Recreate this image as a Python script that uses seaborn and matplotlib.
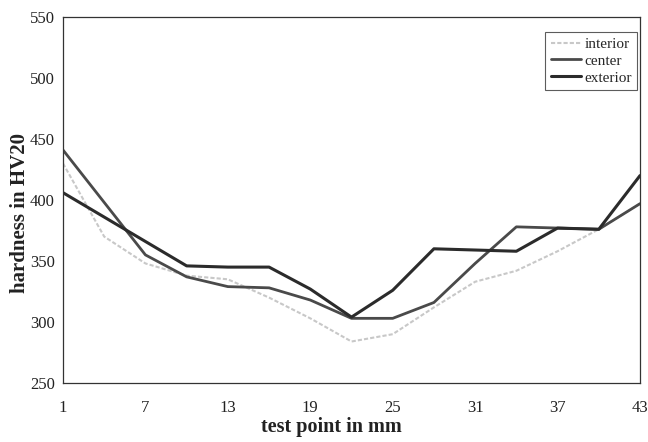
import matplotlib
matplotlib.use("Agg")
import matplotlib.pyplot as plt
import seaborn as sns
import pandas as pd

test_point = [1, 4, 7, 10, 13, 16, 19, 22, 25, 28, 31, 34, 37, 40, 43]
interior = [430, 370, 348, 338, 335, 320, 303, 284, 290, 312, 333, 342, 358, 376, 397]
center = [441, 398, 355, 337, 329, 328, 318, 303, 303, 316, 348, 378, 377, 376, 397]
exterior = [406, 386, 366, 346, 345, 345, 327, 304, 326, 360, 359, 358, 377, 376, 420]

series_names = ["interior", "center", "exterior"]
x_ticks = [1, 7, 13, 19, 25, 31, 37, 43]
y_ticks = [250, 300, 350, 400, 450, 500, 550]

sns.set_theme(style="white")
plt.rcParams["font.family"] = ["Liberation Serif", "DejaVu Serif"]

df = pd.DataFrame({
    "test point": test_point * 3,
    "hardness": interior + center + exterior,
    "series": sum([[n] * len(test_point) for n in series_names], []),
})

fig = plt.figure(figsize=(6.48, 4.42), dpi=100)
ax = fig.add_axes([63 / 648, 1 - 383 / 442, 577 / 648, 366 / 442])

palette = {"interior": "#c8c8c8", "center": "#4a4a4a", "exterior": "#2b2b2b"}
sns.lineplot(data=df, x="test point", y="hardness", hue="series",
             palette=palette, hue_order=series_names, ax=ax, legend=False,
             linewidth=2.0)
lines = ax.get_lines()
lines[0].set_linewidth(1.5)
lines[0].set_linestyle((0, (2, 1)))
lines[1].set_linewidth(2.0)
lines[2].set_linewidth(2.2)

ax.set_xlim(1, 43)
ax.set_ylim(250, 550)
ax.set_xticks(x_ticks)
ax.set_yticks(y_ticks)
ax.tick_params(axis="y", direction="out", length=4, width=0.8, labelsize=12, pad=2, colors="#222222")
ax.tick_params(axis="x", direction="in", length=4, width=0.8, labelsize=12, pad=12, colors="#222222")
for s in ax.spines.values():
    s.set_color("#333333")
    s.set_linewidth(0.9)

ax.set_xlabel("test point in mm", fontsize=14.5, fontweight="bold", color="#222222")
ax.xaxis.set_label_coords(0.465, -0.093)
ax.set_ylabel("hardness in HV20", fontsize=15, fontweight="bold", color="#222222")
ax.yaxis.set_label_coords(-0.058, 0.465)

leg = ax.legend(lines, series_names, loc="upper right",
                bbox_to_anchor=(0.995, 0.959), fontsize=11, frameon=True,
                fancybox=False, handlelength=2.0, handletextpad=0.2,
                borderpad=0.35, labelspacing=0.2, borderaxespad=0)
leg.get_frame().set_edgecolor("#333333")
leg.get_frame().set_linewidth(0.8)

fig.savefig("out.png", dpi=100, facecolor="white")
